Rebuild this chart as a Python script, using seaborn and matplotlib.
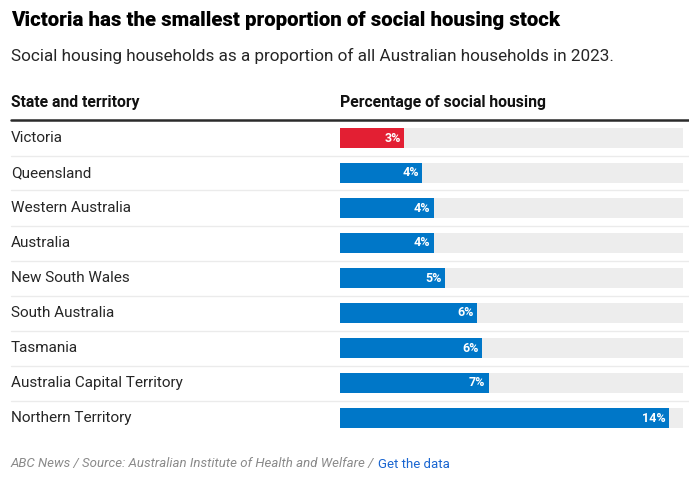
import matplotlib
matplotlib.use('Agg')
import matplotlib.pyplot as plt
import seaborn as sns
import pandas as pd
from matplotlib.lines import Line2D

# data (percent of all households in 2023)
states = ['Victoria', 'Queensland', 'Western Australia', 'Australia', 'New South Wales',
          'South Australia', 'Tasmania', 'Australia Capital Territory', 'Northern Territory']
share = [2.8, 3.6, 4.1, 4.1, 4.6, 6.0, 6.2, 6.5, 14.4]
labels = ['3%', '4%', '4%', '4%', '5%', '6%', '6%', '7%', '14%']
track_max = 15

df = pd.DataFrame({'state': states, 'share': share, 'track': track_max})

W, H = 689, 482
sns.set_theme(style='white')
plt.rcParams['font.family'] = ['Roboto', 'DejaVu Sans']

fig = plt.figure(figsize=(W / 100, H / 100), dpi=100)


def fx(px):
    return px / W


def fy(py):
    return 1 - py / H


# bar area
top, bottom = 120.5, 435.5
ax = fig.add_axes([fx(340), fy(bottom), fx(683) - fx(340), fy(top) - fy(bottom)])

bar_h = 20 / 35
sns.barplot(data=df, y='state', x='track', color='#ededed', width=bar_h,
            orient='h', ax=ax, saturation=1, linewidth=0)
palette = ['#e31f33' if s == 'Victoria' else '#0077c8' for s in states]
sns.barplot(data=df, y='state', x='share', hue='state', palette=palette, width=bar_h,
            orient='h', ax=ax, saturation=1, legend=False, linewidth=0)

ax.set_xlim(0, track_max)
ax.set_ylim(len(states) - 0.5, -0.5)
ax.axis('off')

for i, (v, lab) in enumerate(zip(share, labels)):
    ax.annotate(lab, (v, i), xytext=(-2.5, 0), textcoords='offset points',
                ha='right', va='center', color='white', fontsize=9,
                fontweight='semibold')

# row labels and separators
for i, s in enumerate(states):
    cy = 138 + 35 * i
    fig.text(fx(11), fy(cy), s, ha='left', va='center', fontsize=11, color='#262626')
    if i < len(states) - 1:
        sy = cy + 17.5
        fig.add_artist(Line2D([fx(11), fx(689)], [fy(sy), fy(sy)], color='#ebebeb', lw=1))

fig.add_artist(Line2D([fx(11), fx(689)], [fy(120), fy(120)], color='#2b2b2b', lw=1.8))

# titles
fig.text(fx(11), fy(21), 'Victoria has the smallest proportion of social housing stock',
         ha='left', va='center', fontsize=14.7, fontweight='heavy', color='#000000')
fig.text(fx(11), fy(56), 'Social housing households as a proportion of all Australian households in 2023.',
         ha='left', va='center', fontsize=12.3, color='#262626')
fig.text(fx(11), fy(103), 'State and territory', ha='left', va='center',
         fontsize=11.3, fontweight='bold', color='#111111')
fig.text(fx(340), fy(103), 'Percentage of social housing', ha='left', va='center',
         fontsize=11.3, fontweight='bold', color='#111111')

# footer
src = fig.text(fx(11), fy(464), 'ABC News / Source: Australian Institute of Health and Welfare / ',
               ha='left', va='center', fontsize=9.5, style='italic', color='#8a8a8a')
fig.canvas.draw()
bb = src.get_window_extent()
fig.text(bb.x1 / W, fy(464), 'Get the data', ha='left', va='center',
         fontsize=9.5, color='#1a66d1')

fig.savefig('out.png', dpi=100)
